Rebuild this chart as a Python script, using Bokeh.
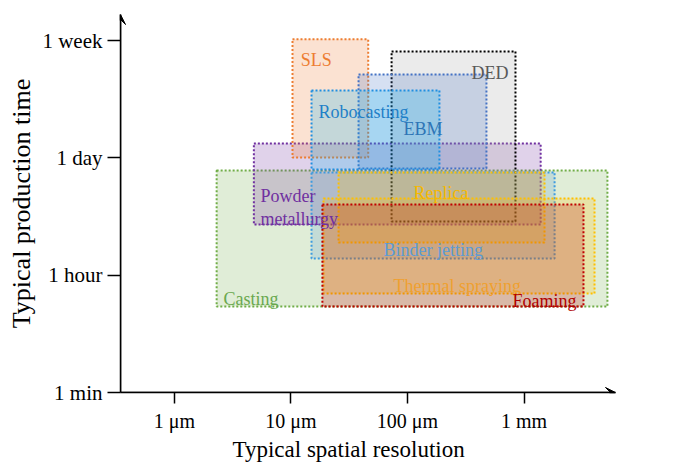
from bokeh.plotting import figure
from bokeh.models import ColumnDataSource, FixedTicker, Arrow, VeeHead, Title, Range1d
from bokeh.embed import file_html
from bokeh.resources import INLINE
from bokeh.core.properties import value

# ---- data -------------------------------------------------------------
# spatial resolution in micrometres (log axis)
# production time as position on an evenly spaced scale: 0=1 min, 1=1 hour, 2=1 day, 3=1 week
methods = ["Casting", "Powder metallurgy", "SLS", "DED", "EBM", "Robocasting",
           "Binder jetting", "Replica", "Thermal spraying", "Foaming"]
res_min = [2.3, 4.8, 10.3, 73, 38, 15, 15, 25.6, 19, 18.6]
res_max = [5200, 1390, 46, 845, 476, 188, 1830, 1500, 4030, 3240]
time_lo = [0.733, 1.432, 2.003, 1.458, 1.910, 1.901, 1.142, 1.279, 0.844, 0.733]
time_hi = [1.893, 2.123, 3.010, 2.907, 2.711, 2.575, 1.876, 1.876, 1.654, 1.603]

label_text = ["Casting", "Powder", "metallurgy", "SLS", "DED", "EBM", "Robocasting",
              "Binder jetting", "Replica", "Thermal spraying", "Foaming"]
label_box = [0, 1, 1, 2, 3, 4, 5, 6, 7, 8, 9]
label_x = [2.63, 5.47, 5.47, 12.1, 354, 92.4, 17.2, 62.2, 112.6, 75.8, 797]
label_y = [0.801, 1.671, 1.483, 2.83, 2.72, 2.242, 2.395, 1.211, 1.697, 0.912, 0.784]

x_tick_vals = [1, 10, 100, 1000]
x_tick_labels = ["1 \u03bcm", "10 \u03bcm", "100 \u03bcm", "1 mm"]
y_tick_vals = [0, 1, 2, 3]
y_tick_labels = ["1 min", "1 hour", "1 day", "1 week"]

# ---- styles -----------------------------------------------------------
border_colors = ["#70AD47", "#7030A0", "#ED7D31", "#000000", "#4472C4", "#1E8FE1",
                 "#3D9BE0", "#FFC000", "#FFC000", "#C00000"]
fill_colors = ["#70AD47", "#7030A0", "#ED7D31", "#A6A6A6", "#4472C4", "#00B0F0",
               "#5B9BD5", "#FFC000", "#FFC000", "#C00000"]
text_colors = ["#6AA84F", "#7030A0", "#ED7D31", "#595959", "#2E75B6", "#1F80C8",
               "#5B9BD5", "#F5B800", "#EFA030", "#B00000"]
FONT = "Liberation Serif"

W, H = 672, 462
p = figure(width=W, height=H, x_axis_type="log",
           x_range=Range1d(0.344, 6100), y_range=Range1d(0, 3.222),
           output_backend="svg", toolbar_location=None,
           min_border_left=120, min_border_right=W - 615,
           min_border_top=14, min_border_bottom=H - 392)
p.title.visible = False
p.outline_line_color = None
p.xgrid.visible = False
p.ygrid.visible = False
p.background_fill_color = "white"

for i in range(len(methods)):
    src = ColumnDataSource(dict(left=[res_min[i]], right=[res_max[i]],
                                bottom=[time_lo[i]], top=[time_hi[i]], name=[methods[i]]))
    p.quad(left="left", right="right", bottom="bottom", top="top", source=src,
           fill_color=fill_colors[i], fill_alpha=0.22,
           line_color=border_colors[i], line_width=2, line_dash="2 2")

for j, b in enumerate(label_box):
    p.text(x=[label_x[j]], y=[label_y[j]], text=[label_text[j]],
           text_font=value(FONT), text_font_size="18px",
           text_color=text_colors[b], text_align="left",
           text_baseline="alphabetic")

# axes
for ax in (p.xaxis[0], p.yaxis[0]):
    ax.axis_line_color = "black"
    ax.axis_line_width = 1.5
    ax.major_tick_line_color = "black"
    ax.major_tick_line_width = 1.5
    ax.minor_tick_line_color = None
    ax.major_tick_in = 0
    ax.major_label_text_font = FONT
    ax.major_label_text_color = "black"

p.xaxis.ticker = FixedTicker(ticks=x_tick_vals)
p.xaxis.major_label_overrides = dict(zip(x_tick_vals, x_tick_labels))
p.xaxis.major_label_text_font_size = "20px"
p.xaxis.major_tick_out = 11
p.xaxis.major_label_standoff = 6

p.yaxis.ticker = FixedTicker(ticks=y_tick_vals)
p.yaxis.major_label_overrides = dict(zip(y_tick_vals, y_tick_labels))
p.yaxis.major_label_text_font_size = "21px"
p.yaxis.major_tick_out = 13
p.yaxis.major_label_standoff = 5
p.yaxis.axis_label = "Typical production time"
p.yaxis.axis_label_text_font = FONT
p.yaxis.axis_label_text_font_size = "26px"
p.yaxis.axis_label_text_font_style = "normal"
p.yaxis.axis_label_text_color = "black"
p.yaxis.axis_label_standoff = 3

p.add_layout(Title(text="Typical spatial resolution", align="left", offset=112,
                   text_font=FONT, text_font_size="23px", text_font_style="normal",
                   text_color="black", standoff=0), "below")

# axis arrows
p.add_layout(Arrow(end=VeeHead(size=10, fill_color="black", line_color="black", line_width=1),
                   x_start=0.344, y_start=0, x_end=0.344, y_end=3.222,
                   line_color="black", line_width=1.5))
p.add_layout(Arrow(end=VeeHead(size=10, fill_color="black", line_color="black", line_width=1),
                   x_start=0.344, y_start=0, x_end=6100, y_end=0,
                   line_color="black", line_width=1.5))

open("out.html", "w").write(file_html(p, INLINE))
